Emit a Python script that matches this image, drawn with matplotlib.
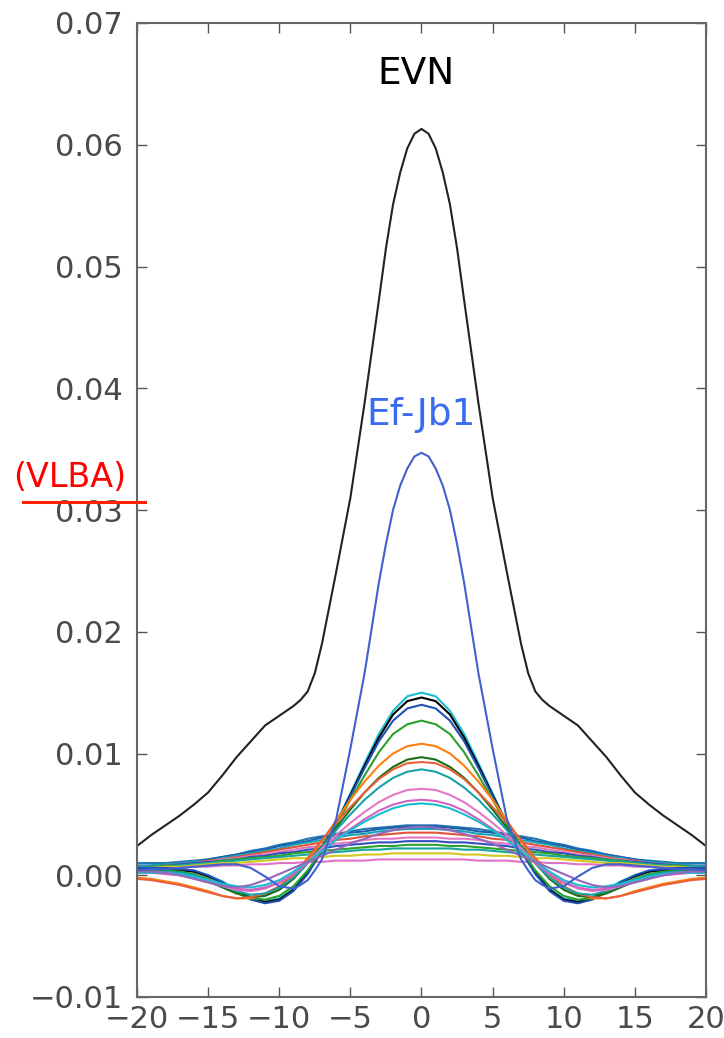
import numpy as np
import matplotlib
matplotlib.use('Agg')
import matplotlib.pyplot as plt
from matplotlib.lines import Line2D

#-------------------------------------------------------------------------------
# data (half profiles, curves are symmetric about 0)
#-------------------------------------------------------------------------------
# finer grid for the two tall curves
x_tall = [0, 0.5, 1, 1.5, 2, 2.5, 3, 4, 5, 6, 7, 7.5, 8, 8.5, 9, 10, 11, 12, 13,
          14, 15, 16, 17, 18, 19, 20]

evn = [0.0613, 0.0609, 0.0597, 0.0577, 0.0551, 0.0515, 0.0472, 0.0388, 0.0310,
       0.0249, 0.0190, 0.0166, 0.0151, 0.0144, 0.0139, 0.0131, 0.0123, 0.0110,
       0.0097, 0.0082, 0.0068, 0.0058, 0.0049, 0.0041, 0.0033, 0.0024]

ef_jb1 = [0.0347, 0.0344, 0.0334, 0.0320, 0.0300, 0.0272, 0.0240, 0.0166, 0.0104,
          0.0046, 0.0013, 0.0004, -0.0004, -0.0008, -0.0011, -0.0009, -0.0001,
          0.0006, 0.0009, 0.0009, 0.0008, 0.0007, 0.0006, 0.0005, 0.0005, 0.0004]

# grid for the other baselines
x_half = [0, 1, 2, 3, 4, 5, 6, 7, 8, 9, 10, 11, 12, 13, 14, 15, 16, 17, 18, 19, 20]

# baselines with a clear main lobe and a negative side lobe
mid_curves = [
    [0.0150, 0.0147, 0.0135, 0.0116, 0.0092, 0.0067, 0.0043, 0.0021, 0.0003, -0.0011,
     -0.0019, -0.0021, -0.0018, -0.0012, -0.0005, 0.0000, 0.0003, 0.0005, 0.0005, 0.0005, 0.0005],
    [0.0146, 0.0143, 0.0132, 0.0113, 0.0090, 0.0066, 0.0042, 0.0020, 0.0002, -0.0012,
     -0.0020, -0.0022, -0.0019, -0.0013, -0.0006, -0.0001, 0.0003, 0.0004, 0.0005, 0.0005, 0.0005],
    [0.0140, 0.0137, 0.0127, 0.0110, 0.0088, 0.0065, 0.0042, 0.0020, 0.0001, -0.0013,
     -0.0021, -0.0023, -0.0020, -0.0014, -0.0006, 0.0000, 0.0004, 0.0005, 0.0006, 0.0006, 0.0006],
    [0.0127, 0.0124, 0.0116, 0.0101, 0.0082, 0.0062, 0.0041, 0.0021, 0.0004, -0.0009,
     -0.0017, -0.0020, -0.0019, -0.0014, -0.0008, -0.0003, 0.0001, 0.0003, 0.0004, 0.0004, 0.0004],
    [0.0108, 0.0106, 0.0100, 0.0090, 0.0077, 0.0062, 0.0045, 0.0028, 0.0012, -0.0001,
     -0.0010, -0.0016, -0.0019, -0.0019, -0.0017, -0.0013, -0.0010, -0.0007, -0.0005, -0.0003, -0.0002],
    [0.0097, 0.0095, 0.0089, 0.0080, 0.0068, 0.0054, 0.0039, 0.0024, 0.0010, -0.0003,
     -0.0012, -0.0017, -0.0018, -0.0015, -0.0010, -0.0005, -0.0001, 0.0002, 0.0003, 0.0003, 0.0003],
    [0.0093, 0.0092, 0.0087, 0.0079, 0.0068, 0.0056, 0.0043, 0.0029, 0.0014, 0.0001,
     -0.0009, -0.0015, -0.0018, -0.0019, -0.0017, -0.0014, -0.0011, -0.0008, -0.0006, -0.0004, -0.0003],
    [0.0087, 0.0085, 0.0080, 0.0072, 0.0062, 0.0050, 0.0037, 0.0023, 0.0010, -0.0002,
     -0.0010, -0.0015, -0.0016, -0.0013, -0.0008, -0.0004, 0.0000, 0.0002, 0.0003, 0.0003, 0.0003],
    [0.0071, 0.0070, 0.0066, 0.0060, 0.0052, 0.0043, 0.0033, 0.0022, 0.0011, 0.0001,
     -0.0006, -0.0011, -0.0013, -0.0012, -0.0009, -0.0005, -0.0002, 0.0000, 0.0002, 0.0002, 0.0002],
    [0.0062, 0.0061, 0.0058, 0.0053, 0.0046, 0.0038, 0.0030, 0.0020, 0.0010, 0.0001,
     -0.0006, -0.0010, -0.0012, -0.0011, -0.0008, -0.0005, -0.0002, 0.0000, 0.0001, 0.0002, 0.0002],
    [0.0059, 0.0058, 0.0055, 0.0050, 0.0044, 0.0037, 0.0029, 0.0020, 0.0011, 0.0003,
     -0.0004, -0.0008, -0.0010, -0.0009, -0.0007, -0.0004, -0.0001, 0.0001, 0.0002, 0.0002, 0.0002],
    [0.0040, 0.0039, 0.0037, 0.0034, 0.0030, 0.0026, 0.0021, 0.0016, 0.0011, 0.0006,
     0.0001, -0.0004, -0.0008, -0.0010, -0.0009, -0.0006, -0.0003, 0.0000, 0.0002, 0.0003, 0.0003],
]
mid_colors = ['#17becf', 'black', '#1f50b4', '#2ca02c', '#ff7f0e', '#1b6e1b',
              '#e8603c', '#17a2a8', '#e377c2', '#d062c0', '#17becf', '#9467bd']

# short baselines: broad and flat
flat_curves = [
    [0.0041, 0.0041, 0.0040, 0.0039, 0.0038, 0.0036, 0.0034, 0.0032, 0.0030, 0.0027,
     0.0025, 0.0022, 0.0020, 0.0017, 0.0015, 0.0013, 0.0012, 0.0011, 0.0010, 0.0010, 0.0010],
    [0.0040, 0.0040, 0.0039, 0.0038, 0.0036, 0.0035, 0.0033, 0.0031, 0.0028, 0.0026,
     0.0024, 0.0021, 0.0019, 0.0017, 0.0015, 0.0013, 0.0011, 0.0010, 0.0009, 0.0008, 0.0008],
    [0.0038, 0.0038, 0.0037, 0.0036, 0.0034, 0.0033, 0.0031, 0.0029, 0.0027, 0.0025,
     0.0022, 0.0020, 0.0018, 0.0016, 0.0014, 0.0012, 0.0011, 0.0010, 0.0009, 0.0008, 0.0007],
    [0.0035, 0.0035, 0.0034, 0.0033, 0.0032, 0.0030, 0.0029, 0.0027, 0.0025, 0.0023,
     0.0021, 0.0019, 0.0017, 0.0015, 0.0013, 0.0012, 0.0010, 0.0009, 0.0008, 0.0007, 0.0006],
    [0.0031, 0.0031, 0.0030, 0.0030, 0.0029, 0.0027, 0.0026, 0.0024, 0.0023, 0.0021,
     0.0019, 0.0017, 0.0016, 0.0014, 0.0013, 0.0011, 0.0010, 0.0009, 0.0008, 0.0007, 0.0006],
    [0.0028, 0.0028, 0.0027, 0.0027, 0.0026, 0.0025, 0.0024, 0.0022, 0.0021, 0.0019,
     0.0018, 0.0016, 0.0015, 0.0013, 0.0012, 0.0011, 0.0010, 0.0009, 0.0008, 0.0007, 0.0006],
    [0.0025, 0.0025, 0.0024, 0.0024, 0.0023, 0.0022, 0.0021, 0.0020, 0.0019, 0.0018,
     0.0016, 0.0015, 0.0014, 0.0013, 0.0012, 0.0010, 0.0009, 0.0008, 0.0008, 0.0007, 0.0006],
    [0.0022, 0.0022, 0.0022, 0.0021, 0.0021, 0.0020, 0.0019, 0.0018, 0.0017, 0.0016,
     0.0015, 0.0014, 0.0013, 0.0012, 0.0011, 0.0010, 0.0009, 0.0008, 0.0007, 0.0007, 0.0006],
    [0.0018, 0.0018, 0.0018, 0.0017, 0.0017, 0.0016, 0.0016, 0.0015, 0.0014, 0.0014,
     0.0013, 0.0012, 0.0011, 0.0010, 0.0010, 0.0009, 0.0008, 0.0007, 0.0007, 0.0006, 0.0006],
    [0.0013, 0.0013, 0.0013, 0.0013, 0.0012, 0.0012, 0.0012, 0.0011, 0.0011, 0.0010,
     0.0010, 0.0009, 0.0009, 0.0008, 0.0008, 0.0007, 0.0007, 0.0006, 0.0006, 0.0005, 0.0005],
]
flat_colors = ['#1f77b4', '#1f5fa8', '#17a2b8', '#e0553a', '#e377c2', '#3050c0',
               '#2ca02c', '#17a89a', '#d4c81e', '#e070c8']

x_ticks = [-20, -15, -10, -5, 0, 5, 10, 15, 20]
y_ticks = [-0.01, 0.00, 0.01, 0.02, 0.03, 0.04, 0.05, 0.06, 0.07]


def mirror(half):
    # the curves are symmetric about 0, so build the left side from the right
    half = np.asarray(half, dtype=float)
    return np.concatenate([half[:0:-1], half])


def mirror_x(half):
    half = np.asarray(half, dtype=float)
    return np.concatenate([-half[:0:-1], half])


#-------------------------------------------------------------------------------
# plot
#-------------------------------------------------------------------------------
fig = plt.figure(figsize=(7.24, 10.38), dpi=100)
ax = fig.add_axes([137/724, 41/1038, 569/724, 974/1038])

xs = mirror_x(x_half)
for vals, col in zip(flat_curves, flat_colors):
    ax.plot(xs, mirror(vals), color=col, lw=1.5)
for vals, col in zip(mid_curves, mid_colors):
    ax.plot(xs, mirror(vals), color=col, lw=1.5)
ax.plot(mirror_x(x_tall), mirror(ef_jb1), color='#4060d0', lw=1.5)
ax.plot(mirror_x(x_tall), mirror(evn), color='#222222', lw=1.5)

ax.set_xlim(-20, 20)
ax.set_ylim(-0.01, 0.07)
ax.set_xticks(x_ticks)
ax.set_yticks(y_ticks)
ax.tick_params(direction='in', length=7, width=1, color='#555555',
               labelsize=22, labelcolor='#4a4a4a', top=True, right=True)
ax.tick_params(axis='y', pad=10)
ax.tick_params(axis='x', pad=6)
for sp in ax.spines.values():
    sp.set_color('#666666')
    sp.set_linewidth(1.5)

# labels put on the plot
ax.text(-0.4, 0.0658, 'EVN', color='black', fontsize=27, ha='center', va='center')
ax.text(0.0, 0.0378, 'Ef-Jb1', color='#3b6cf0', fontsize=27, ha='center', va='center')
fig.text(70/724, 1 - 477/1038, '(VLBA)', color='red', fontsize=24,
         ha='center', va='center')
fig.add_artist(Line2D([23/724, 145/724], [1 - 502/1038, 1 - 502/1038],
                      transform=fig.transFigure, color='#ff2000', lw=2.2))

plt.savefig('out.png', dpi=100)
